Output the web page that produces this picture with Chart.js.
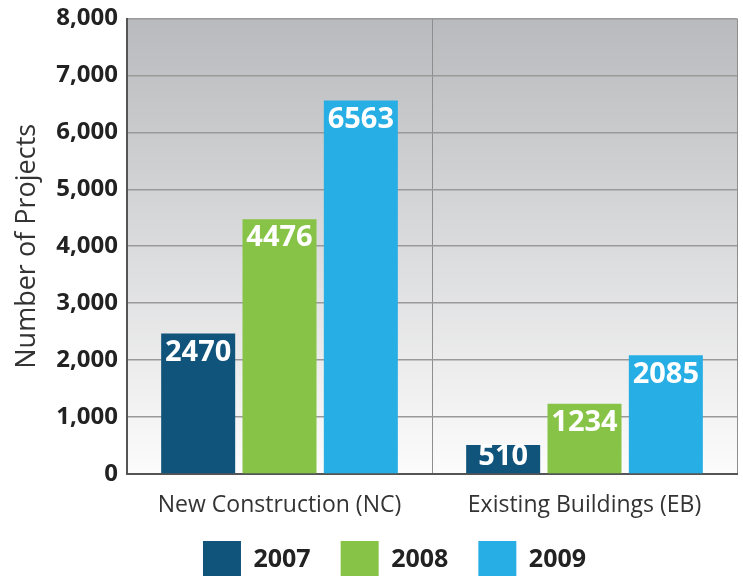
<!DOCTYPE html>
<html>
<head>
<meta charset="utf-8">
<script src="https://cdn.jsdelivr.net/npm/chart.js@4/dist/chart.umd.min.js"></script>
<style>
  html, body { margin: 0; padding: 0; background: #fff; overflow: hidden; }
  #wrap { width: 743px; height: 589px; position: relative; }
</style>
</head>
<body>
<div id="wrap"><canvas id="projectsChart"></canvas></div>
<script>
// project counts per year, by rating system
const categories = ['New Construction (NC)', 'Existing Buildings (EB)'];
const years = ['2007', '2008', '2009'];
const projects2007 = [2470, 510];
const projects2008 = [4476, 1234];
const projects2009 = [6563, 2085];
const yTicks = [0, 1000, 2000, 3000, 4000, 5000, 6000, 7000, 8000];
const barColors = ['#11547b', '#86c346', '#27aee4'];

const FONT = "'Open Sans', 'DejaVu Sans', sans-serif";

// grey-to-white fade behind the bars
const plotBackground = {
  id: 'plotBackground',
  beforeDraw(chart) {
    const {ctx, chartArea: a} = chart;
    const g = ctx.createLinearGradient(0, a.top, 0, a.bottom);
    g.addColorStop(0, '#b9babd');
    g.addColorStop(1, '#fcfcfc');
    ctx.save();
    ctx.fillStyle = g;
    ctx.fillRect(a.left, a.top, a.right - a.left, a.bottom - a.top);
    ctx.restore();
  }
};

// white value printed near the top of each bar
const barValues = {
  id: 'barValues',
  afterDatasetsDraw(chart) {
    const ctx = chart.ctx;
    ctx.save();
    ctx.fillStyle = '#ffffff';
    ctx.font = '700 29px ' + FONT;
    ctx.textAlign = 'center';
    ctx.textBaseline = 'middle';
    chart.data.datasets.forEach((ds, i) => {
      chart.getDatasetMeta(i).data.forEach((bar, j) => {
        const h = bar.base - bar.y;
        const off = Math.min(19, h / 2 - 2);
        ctx.fillText(String(ds.data[j]), bar.x, bar.y + off);
      });
    });
    ctx.restore();
  }
};

const ctx = document.getElementById('projectsChart');
const chart = new Chart(ctx, {
  type: 'bar',
  data: {
    labels: categories,
    datasets: [
      { label: years[0], data: projects2007, backgroundColor: barColors[0] },
      { label: years[1], data: projects2008, backgroundColor: barColors[1] },
      { label: years[2], data: projects2009, backgroundColor: barColors[2] }
    ]
  },
  options: {
    responsive: true,
    maintainAspectRatio: false,
    animation: false,
    layout: { padding: { top: 17, right: 6, bottom: 0, left: 52 } },
    datasets: {
      bar: { categoryPercentage: 0.8, barPercentage: 0.91, borderWidth: 0 }
    },
    scales: {
      x: {
        grid: { display: true, color: '#8e8e8e', lineWidth: 1, drawTicks: false },
        border: { display: true, color: '#555555', width: 2 },
        ticks: {
          color: '#333333',
          padding: 18,
          font: { family: FONT, size: 23, weight: '400' }
        },
        afterFit(scale) {
          // keep the axis strip short; let the category names hang below it
          scale.height = 37;
          scale._computeLabelArea = () => undefined;
        }
      },
      y: {
        min: 0,
        max: 8000,
        afterBuildTicks(scale) {
          scale.ticks = yTicks.map(v => ({ value: v }));
        },
        grid: { color: '#999999', lineWidth: 1.6, drawTicks: false },
        border: { display: true, color: '#555555', width: 2 },
        ticks: {
          color: '#222222',
          padding: 9,
          font: { family: FONT, size: 24, weight: '700', lineHeight: 0.8 },
          callback: v => v.toLocaleString('en-US')
        },
        title: {
          display: true,
          text: 'Number of Projects',
          color: '#333333',
          font: { family: FONT, size: 27, weight: '400' },
          padding: { top: -41, bottom: 0 }
        },
        afterFit(scale) { scale.width = 75; }
      }
    },
    plugins: {
      legend: {
        position: 'bottom',
        labels: {
          boxWidth: 38,
          boxHeight: 38,
          padding: 30,
          color: '#222222',
          font: { family: FONT, size: 25, weight: '700' }
        }
      },
      tooltip: { enabled: false }
    }
  },
  plugins: [plotBackground, barValues]
});
</script>
</body>
</html>
